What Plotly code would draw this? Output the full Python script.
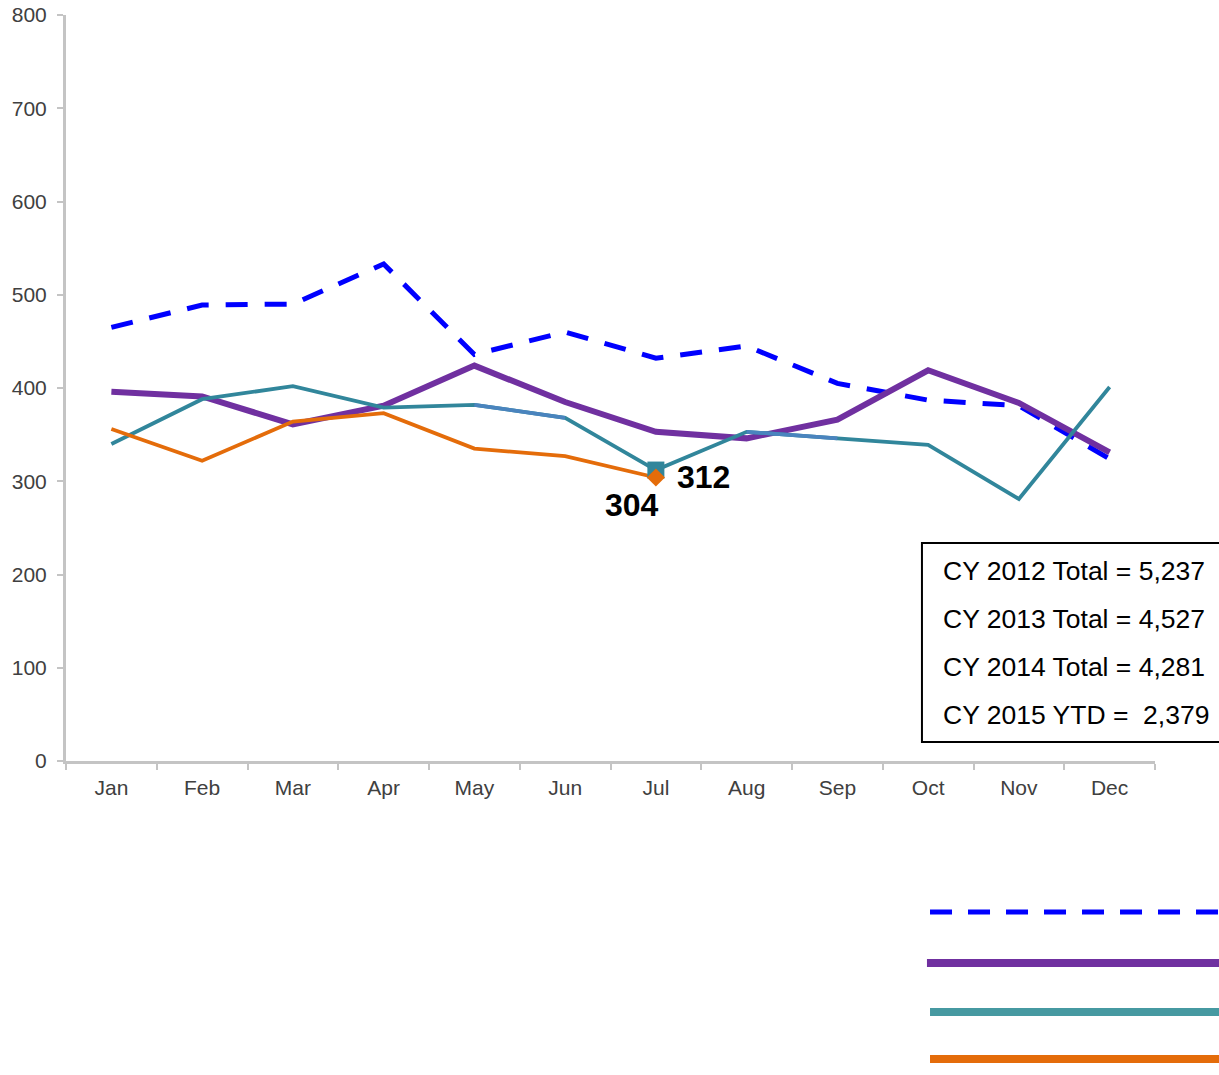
import plotly.graph_objects as go

months = ["Jan", "Feb", "Mar", "Apr", "May", "Jun", "Jul", "Aug", "Sep", "Oct", "Nov", "Dec"]
cy2012 = [465, 489, 490, 533, 436, 460, 432, 445, 405, 387, 381, 324]
cy2013 = [396, 391, 361, 381, 424, 385, 353, 346, 366, 419, 384, 331]
cy2014 = [340, 388, 402, 379, 382, 368, 312, 353, 346, 339, 281, 401]
cy2015 = [356, 322, 364, 373, 335, 327, 304]
totals = ["CY 2012 Total = 5,237", "CY 2013 Total = 4,527", "CY 2014 Total = 4,281", "CY 2015 YTD =  2,379"]

FONT = "Liberation Sans, Arial, sans-serif"
BLUE, PURPLE, TEAL, ORANGE, LBLUE = "#0000FF", "#7030A0", "#31869B", "#E46C0A", "#4A84BE"
TEAL_KEY = "#4699A1"

fig = go.Figure()
fig.add_trace(go.Scatter(x=months, y=cy2012, mode="lines",
                         line=dict(color=BLUE, width=5, dash="22px,17px"), name="CY 2012"))
fig.add_trace(go.Scatter(x=months, y=cy2013, mode="lines",
                         line=dict(color=PURPLE, width=6), name="CY 2013"))
fig.add_trace(go.Scatter(x=months, y=cy2014, mode="lines",
                         line=dict(color=TEAL, width=3.8), name="CY 2014"))
# lighter segments of the 2014 line (colour gradient in the original)
fig.add_trace(go.Scatter(x=months[4:6], y=cy2014[4:6], mode="lines",
                         line=dict(color=LBLUE, width=3.8), showlegend=False, hoverinfo="skip"))
fig.add_trace(go.Scatter(x=months[7:9], y=cy2014[7:9], mode="lines",
                         line=dict(color=LBLUE, width=3.8), showlegend=False, hoverinfo="skip"))
fig.add_trace(go.Scatter(x=months[:len(cy2015)], y=cy2015, mode="lines",
                         line=dict(color=ORANGE, width=3.8), name="CY 2015"))
# end markers
fig.add_trace(go.Scatter(x=[months[6]], y=[cy2014[6]], mode="markers",
                         marker=dict(symbol="square", size=17, color=TEAL), showlegend=False))
fig.add_trace(go.Scatter(x=[months[6]], y=[cy2015[6]], mode="markers",
                         marker=dict(symbol="diamond", size=14, color=ORANGE), showlegend=False))

fig.add_annotation(x=months[6], y=cy2014[6], text="<b>%d</b>" % cy2014[6], showarrow=False,
                   xshift=48, yshift=-7, font=dict(family=FONT, size=32, color="black"))
fig.add_annotation(x=months[6], y=cy2015[6], text="<b>%d</b>" % cy2015[6], showarrow=False,
                   xshift=-24, yshift=-27, font=dict(family=FONT, size=32, color="black"))

# totals box
fig.add_shape(type="rect", xref="paper", yref="paper", x0=0.786, x1=1.07, y0=0.0255, y1=0.2922,
              line=dict(color="black", width=2), fillcolor="white", layer="above")
ys = [0.2547, 0.1903, 0.1260, 0.0617]
for t, yy in zip(totals, ys):
    fig.add_annotation(xref="paper", yref="paper", x=0.8035, y=yy, text=t, showarrow=False,
                       xanchor="left", yanchor="middle",
                       font=dict(family=FONT, size=26.5, color="black"))

# legend keys (legend text lies outside the visible canvas)
leg = [(BLUE, 5, "22px,16px", -0.2024, 0.7934),
       (PURPLE, 8, "solid", -0.2708, 0.7906),
       (TEAL_KEY, 8, "solid", -0.3365, 0.7934),
       (ORANGE, 8, "solid", -0.3995, 0.7934)]
for c, w, d, yy, x0 in leg:
    fig.add_shape(type="line", xref="paper", yref="paper", x0=x0, x1=1.07, y0=yy, y1=yy,
                  line=dict(color=c, width=w, dash=d))

fig.update_layout(
    width=1219, height=1075,
    margin=dict(l=66, r=64, t=15, b=314),
    plot_bgcolor="white", paper_bgcolor="white",
    showlegend=False,
    font=dict(family=FONT, color="#404040"),
)
fig.update_xaxes(type="category", categoryorder="array", categoryarray=months,
                 range=[-0.5, 11.5], showgrid=False, zeroline=False, automargin=False,
                 showline=True, linecolor="#C4C4C4", linewidth=3,
                 ticks="outside", tickson="boundaries", ticklen=6, tickwidth=2, tickcolor="#C4C4C4",
                 ticklabelstandoff=6,
                 tickfont=dict(family=FONT, size=21, color="#404040"))
fig.update_yaxes(range=[0, 800], dtick=100, showgrid=False, zeroline=False, automargin=False,
                 showline=True, linecolor="#C4C4C4", linewidth=3,
                 ticks="outside", ticklen=6, tickwidth=2, tickcolor="#C4C4C4",
                 ticklabelstandoff=6,
                 tickfont=dict(family=FONT, size=21, color="#404040"))

post = ("document.body.style.margin='0';"
        "document.documentElement.style.overflow='hidden';"
        "document.body.style.overflow='hidden';")
fig.write_html("out.html", post_script=post, config={"displayModeBar": False})
